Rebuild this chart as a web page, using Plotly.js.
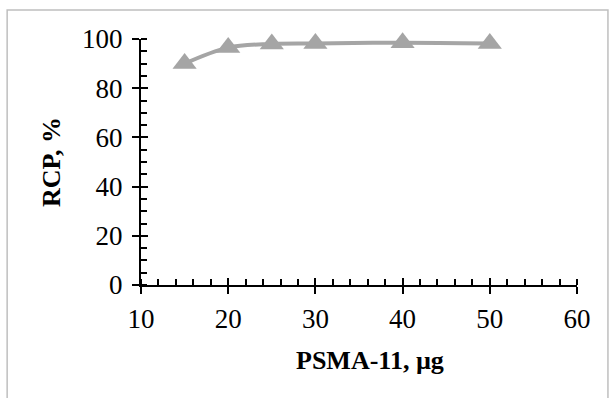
<!DOCTYPE html>
<html><head><meta charset="utf-8">
<script src="https://cdn.plot.ly/plotly-3.0.1.min.js"></script>
<style>html,body{margin:0;padding:0;background:#fff}#c{width:613px;height:398px}</style>
</head><body><div id="c"></div>
<script>
const xValues = [15, 20, 25, 30, 40, 50];
const rcpValues = [90, 96.5, 98, 98.2, 98.5, 98.2];
const yTicks = [0, 20, 40, 60, 80, 100];
const xTicks = [10, 20, 30, 40, 50, 60];
const F = '"Liberation Serif", "Times New Roman", serif';
const data = [{
  x: xValues, y: rcpValues, type: 'scatter', mode: 'lines+markers',
  line: {color: '#a5a5a5', width: 4, shape: 'spline'},
  marker: {symbol: 'triangle-up', size: 21, color: '#a5a5a5'},
  showlegend: false, cliponaxis: false
}, {
  x: xValues, y: rcpValues, xaxis: 'x2', yaxis: 'y2', type: 'scatter', mode: 'markers',
  marker: {opacity: 0}, showlegend: false, hoverinfo: 'skip'
}];
const tickCommon = {tickcolor: '#000', tickwidth: 2, showgrid: false, zeroline: false};
const layout = {
  width: 613, height: 398,
  margin: {l: 141, r: 36, t: 39, b: 113},
  paper_bgcolor: '#fff', plot_bgcolor: '#fff',
  font: {family: F, color: '#000', size: 27},
  xaxis: Object.assign({range: [10, 60], tickvals: xTicks, ticks: 'outside', ticklen: 7,
    showline: true, linecolor: '#000', linewidth: 2,
    minor: {dtick: 2, ticks: 'inside', ticklen: 6, tickwidth: 2, tickcolor: '#000'},
    tickfont: {family: F, size: 27, color: '#000'}, ticklabelstandoff: 2}, tickCommon),
  yaxis: Object.assign({range: [0, 100], tickvals: yTicks, ticks: 'outside', ticklen: 7,
    showline: true, linecolor: '#000', linewidth: 2, showgrid: true, gridcolor: '#a6a6a6', gridwidth: 1,
    minor: {dtick: 5, ticks: 'inside', ticklen: 6, tickwidth: 2, tickcolor: '#000', showgrid: false},
    tickfont: {family: F, size: 27, color: '#000'}, ticklabelstandoff: 4,
    title: {text: '<b>RCP, %</b>', font: {family: F, size: 26, color: '#000'}, standoff: 14}}, tickCommon),
  xaxis2: Object.assign({range: [10, 60], tickvals: xTicks, ticks: 'inside', ticklen: 7,
    overlaying: 'x', anchor: 'y2', side: 'bottom', showticklabels: false, showline: false}, tickCommon),
  yaxis2: Object.assign({range: [0, 100], tickvals: yTicks, ticks: 'inside', ticklen: 7,
    overlaying: 'y', anchor: 'x2', side: 'left', showticklabels: false, showline: false}, tickCommon),
  annotations: [{text: '<b>PSMA-11, µg</b>', xref: 'paper', yref: 'paper', x: 0.525, y: -0.305,
    xanchor: 'center', yanchor: 'middle', showarrow: false, font: {family: F, size: 26, color: '#000'}}],
  shapes: [{type: 'rect', xref: 'paper', yref: 'paper', x0: -0.307, x1: 1.071, y0: -0.6, y1: 1.118,
    line: {color: '#bfbfbf', width: 1.5}}]
};
Plotly.newPlot('c', data, layout, {staticPlot: true});
</script></body></html>
